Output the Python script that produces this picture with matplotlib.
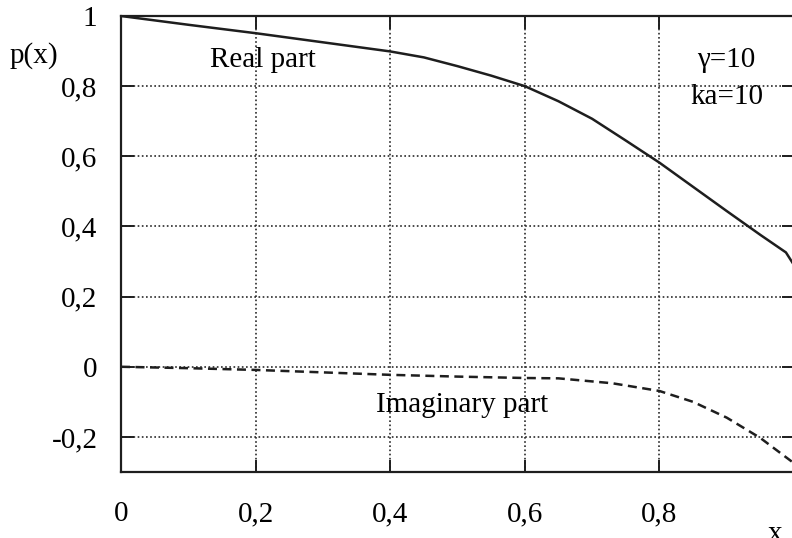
import matplotlib
matplotlib.use("Agg")
import matplotlib.pyplot as plt

# values (gamma=10, ka=10)
x_real = [0.0, 0.1, 0.2, 0.3, 0.4, 0.45, 0.5, 0.55, 0.6, 0.65, 0.7, 0.75, 0.8, 0.85, 0.9, 0.95, 0.988, 1.0]
y_real = [1.0, 0.975, 0.951, 0.925, 0.899, 0.882, 0.857, 0.83, 0.80, 0.757, 0.707, 0.645, 0.582, 0.513, 0.444, 0.376, 0.326, 0.29]
x_imag = [0.0, 0.1, 0.2, 0.3, 0.4, 0.5, 0.6, 0.65, 0.73, 0.8, 0.85, 0.9, 0.95, 1.0]
y_imag = [0.0, -0.004, -0.009, -0.016, -0.023, -0.028, -0.032, -0.033, -0.047, -0.069, -0.10, -0.145, -0.203, -0.275]

x_ticks = [0, 0.2, 0.4, 0.6, 0.8]
x_labels = ["0", "0,2", "0,4", "0,6", "0,8"]
y_ticks = [-0.2, 0, 0.2, 0.4, 0.6, 0.8, 1.0]
y_labels = ["-0,2", "0", "0,2", "0,4", "0,6", "0,8", "1"]

plt.rcParams["font.family"] = ["Liberation Serif", "DejaVu Serif"]

fig = plt.figure(figsize=(7.92, 5.38), dpi=100)
W, H = 792, 538
# right edge of the frame lies just outside the scanned picture
ax = fig.add_axes([121 / W, (H - 472) / H, (794 - 121) / W, (472 - 16) / H])

ax.plot(x_real, y_real, color="#1e1e1e", lw=1.8)
ax.plot(x_imag, y_imag, color="#1e1e1e", lw=1.8, dashes=(3.6, 2.2))

ax.set_xlim(0, 1.0)
ax.set_ylim(-0.3, 1.0)
ax.set_xticks(x_ticks)
ax.set_xticklabels(x_labels)
ax.set_yticks(y_ticks)
ax.set_yticklabels(y_labels)
ax.tick_params(direction="in", length=9, width=1.4, labelsize=21, color="#1e1e1e",
               top=True, right=True)
ax.tick_params(axis="y", pad=17)
ax.tick_params(axis="x", pad=21)
ax.grid(True, color="#2a2a2a", lw=1.2, ls=(0, (1, 1.5)))
for s in ax.spines.values():
    s.set_linewidth(1.6)
    s.set_color("#1e1e1e")
ax.spines["right"].set_visible(False)

fig.text(10 / W, 1 - 56 / H, "p(x)", fontsize=21, va="center", ha="left")
fig.text(775 / W, 1 - 521 / H, "x", fontsize=21, va="top", ha="center")
ax.text(0.211, 0.874, "Real part", fontsize=21, ha="center", va="center")
ax.text(0.90, 0.875, "\u03b3=10", fontsize=21, ha="center", va="center")
ax.text(0.90, 0.77, "ka=10", fontsize=21, ha="center", va="center")
ax.text(0.507, -0.11, "Imaginary part", fontsize=21, ha="center", va="center")

fig.savefig("out.png", dpi=100)
